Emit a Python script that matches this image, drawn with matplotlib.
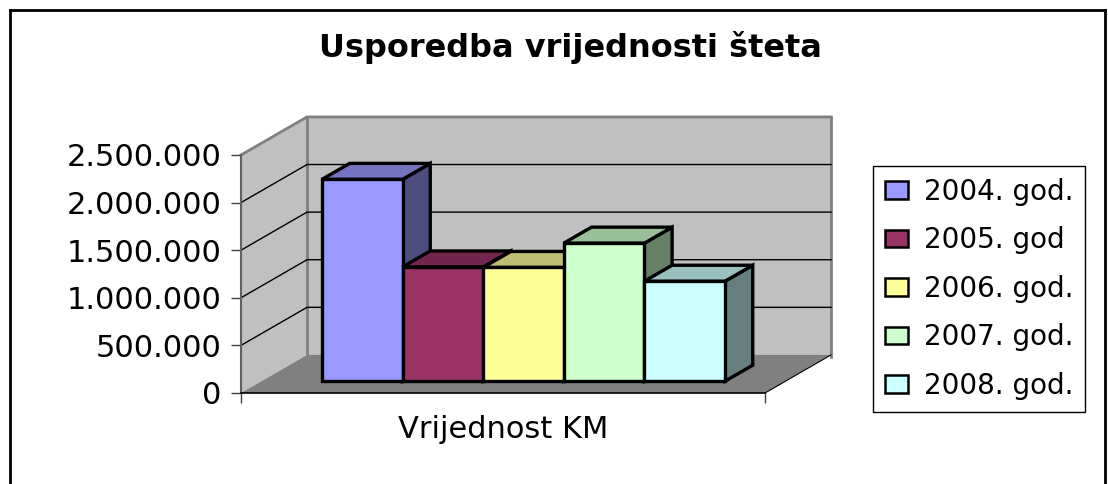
import matplotlib
matplotlib.use('Agg')
import matplotlib.pyplot as plt
from matplotlib.patches import Polygon, Patch
from matplotlib.lines import Line2D

# Data
title = 'Usporedba vrijednosti šteta'
category = 'Vrijednost KM'
years = ['2004. god.', '2005. god', '2006. god.', '2007. god.', '2008. god.']
values = [2120000, 1200000, 1195000, 1450000, 1050000]
yticks = [0, 500000, 1000000, 1500000, 2000000, 2500000]

# Excel-like colours: front, top (lighter shade), side (dark shade)
front_colors = ['#9999FF', '#993366', '#FFFF99', '#CCFFCC', '#CCFFFF']
top_colors = ['#7373BF', '#73264D', '#BFBF73', '#99BF99', '#99BFBF']
side_colors = ['#4D4D80', '#4D1A33', '#80804D', '#668066', '#668080']

W, H = 1108, 484
fig = plt.figure(figsize=(W / 100, H / 100), dpi=100)
# front plane of the 3d box
ax = fig.add_axes([241 / W, 1 - 393 / H, 524 / W, 238 / H])
ymax = yticks[-1]
ax.set_xlim(0, 1)
ax.set_ylim(0, ymax)
ax.patch.set_visible(False)

dx, dy = 0.126, 0.16 * ymax  # oblique depth of floor/walls

# walls and floor
ax.add_patch(Polygon([(0, 0), (0, ymax), (dx, ymax + dy), (dx, dy)],
                     fc='#C0C0C0', ec='none', clip_on=False, zorder=1))
ax.add_patch(Polygon([(dx, dy), (1 + dx, dy), (1 + dx, ymax + dy), (dx, ymax + dy)],
                     fc='#C0C0C0', ec='none', clip_on=False, zorder=1))
ax.add_patch(Polygon([(0, 0), (1, 0), (1 + dx, dy), (dx, dy)],
                     fc='#808080', ec='none', clip_on=False, zorder=1.2))
wall_edge = dict(color='#808080', lw=2, clip_on=False, zorder=1.5)
ax.plot([0, dx, 1 + dx], [ymax, ymax + dy, ymax + dy], **wall_edge)
ax.plot([dx, dx], [dy, ymax + dy], **wall_edge)
ax.plot([1 + dx, 1 + dx], [dy * 0.95, ymax + dy], **wall_edge)
ax.plot([1, 1 + dx], [0, dy], color='black', lw=0.8, clip_on=False, zorder=1.6)

# gridlines on side and back wall
for v in yticks[1:-1]:
    ax.plot([0, dx, 1 + dx], [v, v + dy, v + dy], color='black', lw=1,
            clip_on=False, zorder=2)

# bars
nb = len(values)
bw = 1 / (nb + 1.5)
x_start = 0.75 * bw
f0, fd = 0.31, 0.42
for i, v in enumerate(values):
    x0 = x_start + i * bw + f0 * dx
    y0 = f0 * dy
    ddx, ddy = fd * dx, fd * dy
    front = [(x0, y0), (x0 + bw, y0), (x0 + bw, y0 + v), (x0, y0 + v)]
    top = [(x0, y0 + v), (x0 + bw, y0 + v), (x0 + bw + ddx, y0 + v + ddy), (x0 + ddx, y0 + v + ddy)]
    side = [(x0 + bw, y0), (x0 + bw + ddx, y0 + ddy), (x0 + bw + ddx, y0 + v + ddy), (x0 + bw, y0 + v)]
    z = 3 + i
    for pts, c in [(side, side_colors[i]), (top, top_colors[i]), (front, front_colors[i])]:
        ax.add_patch(Polygon(pts, closed=True, fc=c, ec='black', lw=2.4,
                             joinstyle='miter', clip_on=False, zorder=z))

# axes
for s in ['top', 'right']:
    ax.spines[s].set_visible(False)
ax.spines['left'].set_color('#606060')
ax.spines['left'].set_linewidth(1.5)
ax.spines['bottom'].set_color('black')
ax.spines['bottom'].set_linewidth(1.2)
ax.spines['left'].set_zorder(2.5)
ax.spines['bottom'].set_zorder(2.5)

ax.set_yticks(yticks)
ax.set_yticklabels([f'{v:,.0f}'.replace(',', '.') for v in yticks])
ax.set_xticks([0, 1])
ax.set_xticklabels(['', ''])
ax.tick_params(axis='y', length=7, width=1, color='#404040', pad=7, labelsize=22)
ax.tick_params(axis='x', length=7, width=1, color='#404040')
ax.set_xlabel(category, fontsize=22, va='center')
ax.xaxis.set_label_coords(0.5, -(429 - 393) / 238)

# title
fig.text(570 / W, 1 - 47 / H, title, ha='center', va='center',
         fontsize=23, fontweight='bold')

# legend
handles = [Patch(fc=c, ec='black', lw=1.8) for c in front_colors]
leg = fig.legend(handles, years, loc='upper left', bbox_to_anchor=(873 / W, 1 - 166 / H),
                 frameon=True, fancybox=False, edgecolor='black', framealpha=1,
                 fontsize=20, handlelength=0.85, handleheight=0.6, handletextpad=0.55,
                 labelspacing=0.74, borderpad=0.42, borderaxespad=0)
leg.get_frame().set_linewidth(1)

# outer chart border
border = dict(color='black', lw=2, transform=fig.transFigure)
fig.add_artist(Line2D([10 / W, 10 / W], [0, 1 - 10 / H], **border))
fig.add_artist(Line2D([10 / W, 1105 / W], [1 - 10 / H, 1 - 10 / H], **border))
fig.add_artist(Line2D([1105 / W, 1105 / W], [0, 1 - 10 / H], **border))

fig.savefig('out.png', dpi=100)
